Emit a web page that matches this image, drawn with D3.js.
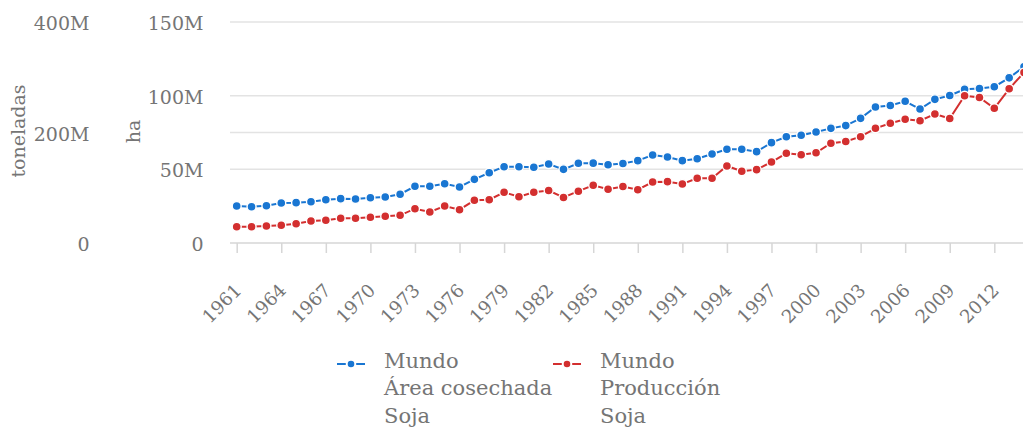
<!DOCTYPE html>
<html><head><meta charset="utf-8">
<script src="https://cdn.jsdelivr.net/npm/d3@7"></script>
<style>
html,body{margin:0;padding:0;background:#fff;overflow:hidden}
text{font-family:"DejaVu Serif",serif;fill:#757575}
</style></head>
<body>
<svg id="c" width="1023" height="434"></svg>
<script>
const years = d3.range(1961, 2015);
const areaHa = [25.1,24.6,25.3,27.1,27.4,28.0,29.4,30.1,29.9,30.7,31.2,33.1,38.5,38.5,40.2,38.0,43.2,47.7,
  51.8,51.8,51.4,53.6,50.0,54.1,54.2,53.1,54.0,55.9,59.7,58.4,55.9,57.2,60.4,63.6,63.6,62.0,
  68.1,72.1,73.1,75.3,77.8,79.7,84.6,92.3,93.3,96.2,90.9,97.5,100.1,104.3,104.9,106.1,112.1,119.7].map(v=>v*1e6);
const prodT = [29.5,29.5,30.8,32.0,34.9,39.8,41.1,44.7,44.7,46.5,48.3,50.1,62.1,56.1,67.0,60.3,77.3,78.4,
  91.8,83.8,91.9,95.0,82.4,93.8,104.4,97.4,102.3,96.5,110.4,111.0,106.8,117.1,117.1,139.4,129.8,132.8,
  146.6,162.4,159.8,163.4,180.5,183.7,192.4,207.6,216.8,224.1,221.4,233.5,225.3,266.4,263.4,243.8,279.1,308.6].map(v=>v*1e6);
const haTicks = [0, 50e6, 100e6, 150e6];
const tonTicks = [0, 200e6, 400e6];
const xTickYears = d3.range(1961, 2013, 3);
const seriesNames = [["Mundo","Área cosechada","Soja"],["Mundo","Producción","Soja"]];
const colors = ["#1976d2","#d32f2f"];

const svg = d3.select("#c");
const fmt = d => d === 0 ? "0" : (d/1e6) + "M";
const x = d3.scalePoint().domain(years).range([236.7, 236.7 + 53*14.855]);
const yHa = d3.scaleLinear().domain([0,150e6]).range([243,22]);
const yTon = d3.scaleLinear().domain([0,400e6]).range([243,22]);
const fsY = 19, fsX = 18.2, fsL = 21;

// gridlines
const gridYs = Array.from(new Set(haTicks.map(yHa).concat(tonTicks.map(yTon)).map(v=>Math.round(v*10)/10)));
svg.append("g").selectAll("line").data(gridYs).join("line")
  .attr("x1",230).attr("x2",1023).attr("y1",d=>d).attr("y2",d=>d)
  .attr("stroke",d=>d>=242?"#d6d6d6":"#e3e3e3").attr("stroke-width",1.6);

// left axes
const axTon = svg.append("g").attr("transform","translate(89.5,0)")
  .call(d3.axisLeft(yTon).tickValues(tonTicks).tickFormat(fmt).tickSize(0).tickPadding(0));
const axHa = svg.append("g").attr("transform","translate(203.5,0)")
  .call(d3.axisLeft(yHa).tickValues(haTicks).tickFormat(fmt).tickSize(0).tickPadding(0));
[axTon,axHa].forEach(a=>{a.select(".domain").remove();a.selectAll("text").attr("font-size",fsY).attr("font-family","DejaVu Serif").attr("fill","#757575").attr("dy","0.4em");});

svg.append("text").attr("transform","translate(25,131) rotate(-90)").attr("text-anchor","middle").attr("font-size",fsY).text("toneladas");
svg.append("text").attr("transform","translate(140,131.5) rotate(-90)").attr("text-anchor","middle").attr("font-size",fsY).text("ha");

// x axis
const ax = svg.append("g").attr("transform","translate(0,243)")
  .call(d3.axisBottom(x).tickValues(xTickYears).tickSize(10).tickPadding(0));
ax.select(".domain").remove();
ax.selectAll(".tick line").attr("stroke","#d6d6d6").attr("stroke-width",1.5);
ax.selectAll("text").attr("font-size",fsX).attr("font-family","DejaVu Serif").attr("fill","#757575")
  .attr("text-anchor","end").attr("x",0).attr("y",0).attr("dy",0).attr("transform","translate(5.5,48.5) rotate(-45)");

// series
const data = [areaHa.map((v,i)=>({x:years[i],y:yHa(v)})), prodT.map((v,i)=>({x:years[i],y:yTon(v)}))];
const line = d3.line().x(d=>x(d.x)).y(d=>d.y);
data.forEach((s,k)=>{
  const g = svg.append("g");
  g.append("path").attr("d",line(s)).attr("fill","none").attr("stroke",colors[k]).attr("stroke-width",2);
  g.selectAll("circle").data(s).join("circle").attr("cx",d=>x(d.x)).attr("cy",d=>d.y).attr("r",4.5)
    .attr("fill",colors[k]).attr("stroke","#fff").attr("stroke-width",1.4);
});

// legend
const legX = [337, 553];
seriesNames.forEach((lines,k)=>{
  const g = svg.append("g").attr("transform",`translate(${legX[k]},364)`);
  g.append("line").attr("x1",0).attr("x2",28).attr("y1",0).attr("y2",0).attr("stroke",colors[k]).attr("stroke-width",2);
  g.append("circle").attr("cx",14).attr("cy",0).attr("r",4.3).attr("fill",colors[k]).attr("stroke","#fff").attr("stroke-width",2);
  const t = g.append("text").attr("font-size",fsL);
  lines.forEach((l,i)=>t.append("tspan").attr("x",47).attr("y", 3.5 + i*27.7).text(l));
});
</script>
</body></html>
